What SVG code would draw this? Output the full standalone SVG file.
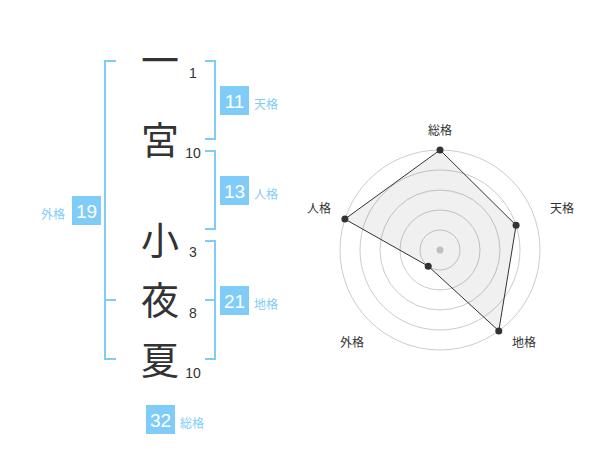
<svg xmlns="http://www.w3.org/2000/svg" width="600" height="470" viewBox="0 0 600 470">
<style>
.br{fill:none;stroke:#80ccf8;stroke-width:2}
.box{fill:#80ccf8}
.bn{font-family:"Liberation Sans",Arial,sans-serif;font-size:19px;fill:#fff;text-anchor:middle}
.lb{font-family:"Noto Sans CJK JP",sans-serif;font-size:12px;fill:#80ccf8}
.ch{font-family:"Noto Sans CJK JP",sans-serif;font-size:38px;fill:#333;text-anchor:middle}
.sn{font-family:"Liberation Sans",Arial,sans-serif;font-size:14px;fill:#333;text-anchor:middle}
.rl{font-family:"Noto Sans CJK JP",sans-serif;font-size:12px;fill:#333;text-anchor:middle}
.ring{fill:none;stroke:#ccc;stroke-width:1}
.pt{fill:#333}
</style>
<rect width="600" height="470" fill="#fff"/>
<g id="characters">
<text class="ch" x="160" y="74">一</text>
<text class="ch" x="160" y="154">宮</text>
<text class="ch" x="160" y="254">小</text>
<text class="ch" x="160" y="314">夜</text>
<text class="ch" x="160" y="374">夏</text>
<text class="sn" x="193" y="78">1</text>
<text class="sn" x="193" y="158">10</text>
<text class="sn" x="193" y="257">3</text>
<text class="sn" x="193" y="318">8</text>
<text class="sn" x="193" y="378">10</text>
</g>
<g id="connectors">
<path class="br" d="M116,61H105V359H116M105,300H116"/>
<path class="br" d="M205,61H215V139H205"/>
<path class="br" d="M205,151H215V229H205"/>
<path class="br" d="M205,241H215V359H205M215,300H205"/>
</g>
<g id="tenkaku">
<rect class="box" x="220" y="86" width="29" height="29"/>
<text class="bn" x="234.5" y="107.5">11</text>
<text class="lb" x="254" y="109">天格</text>
</g>
<g id="jinkaku">
<rect class="box" x="220" y="176" width="29" height="29"/>
<text class="bn" x="234.5" y="197.5">13</text>
<text class="lb" x="254" y="199">人格</text>
</g>
<g id="chikaku">
<rect class="box" x="220" y="286" width="29" height="29"/>
<text class="bn" x="234.5" y="307.5">21</text>
<text class="lb" x="254" y="309">地格</text>
</g>
<g id="gaikaku">
<rect class="box" x="72" y="196" width="29" height="29"/>
<text class="bn" x="86.5" y="217.5">19</text>
<text class="lb" x="41" y="219">外格</text>
</g>
<g id="soukaku">
<rect class="box" x="146" y="405" width="29" height="29"/>
<text class="bn" x="160.5" y="426.5">32</text>
<text class="lb" x="180" y="428">総格</text>
</g>
<g id="radar">
<circle class="ring" cx="440" cy="250" r="20"/>
<circle class="ring" cx="440" cy="250" r="40"/>
<circle class="ring" cx="440" cy="250" r="60"/>
<circle class="ring" cx="440" cy="250" r="80"/>
<circle class="ring" cx="440" cy="250" r="100"/>
<circle cx="440" cy="250" r="3.5" fill="#ccc"/>
<polygon points="440,150 516.08,225.28 498.78,330.9 428.24,266.18 344.89,219.1" fill="#000" fill-opacity="0.06" stroke="#333" stroke-width="1"/>
<circle class="pt" cx="440" cy="150" r="3.5"/>
<circle class="pt" cx="516.08" cy="225.28" r="3.5"/>
<circle class="pt" cx="498.78" cy="330.9" r="3.5"/>
<circle class="pt" cx="428.24" cy="266.18" r="3.5"/>
<circle class="pt" cx="344.89" cy="219.1" r="3.5"/>
<text class="rl" x="440" y="135">総格</text>
<text class="rl" x="562" y="213">天格</text>
<text class="rl" x="319" y="213">人格</text>
<text class="rl" x="524" y="347">地格</text>
<text class="rl" x="352" y="347">外格</text>
</g>
</svg>
